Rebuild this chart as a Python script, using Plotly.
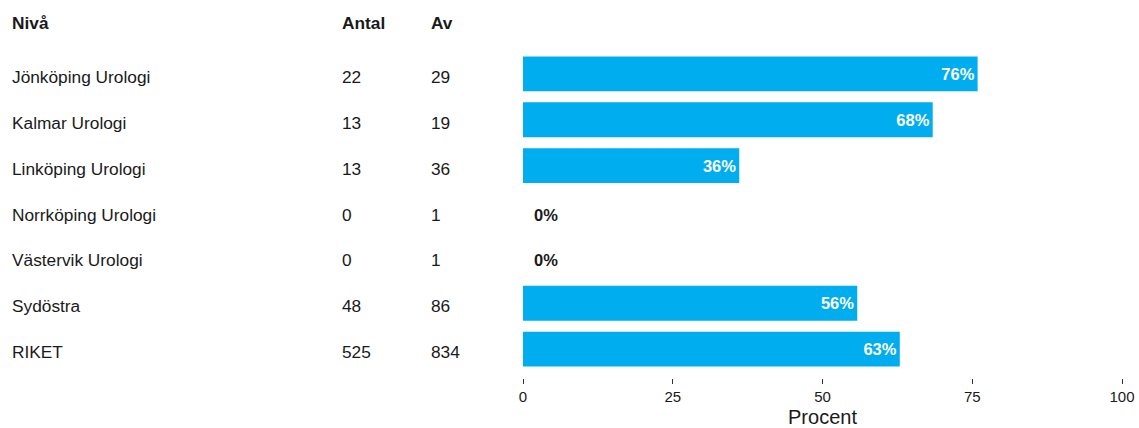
import plotly.graph_objects as go

# Data
niva = ["Jönköping Urologi", "Kalmar Urologi", "Linköping Urologi", "Norrköping Urologi",
        "Västervik Urologi", "Sydöstra", "RIKET"]
antal = [22, 13, 13, 0, 0, 48, 525]
av = [29, 19, 36, 1, 1, 86, 834]
procent = [75.9, 68.4, 36.1, 0.0, 0.0, 55.8, 62.9]
labels = ["76%", "68%", "36%", "0%", "0%", "56%", "63%"]
headers = ["Nivå", "Antal", "Av"]
x_ticks = [0, 25, 50, 75, 100]

FONT = "Liberation Sans, Arial, sans-serif"
BAR = "#00adee"
TXT = "#1a1a1a"

W, H = 1139, 428
L, R, T, B = 523, 17, 51, 50
plot_w = W - L - R

def px_to_paper(px):
    return (px - L) / plot_w

inside_text = [f"<b>{t}</b>" if v > 0 else "" for t, v in zip(labels, procent)]

fig = go.Figure()
fig.add_trace(go.Bar(
    y=niva, x=procent, orientation="h",
    marker=dict(color=BAR, line=dict(width=0)),
    text=inside_text, textposition="inside", insidetextanchor="end",
    textfont=dict(family=FONT, size=16.5, color="white"),
    cliponaxis=False, hoverinfo="skip",
))

col_x = [10, 340, 429]
annotations = []
for h, cx in zip(headers, col_x):
    annotations.append(dict(
        x=px_to_paper(cx), xref="paper", y=1.086, yref="paper",
        text=f"<b>{h}</b>", showarrow=False, xanchor="left", yanchor="middle",
        font=dict(family=FONT, size=17.3, color=TXT)))
for i, name in enumerate(niva):
    for val, cx in zip([name, str(antal[i]), str(av[i])], col_x):
        annotations.append(dict(
            x=px_to_paper(cx), xref="paper", y=name, yref="y",
            text=val, showarrow=False, xanchor="left", yanchor="middle",
            yshift=-3,
            font=dict(family=FONT, size=17.3, color=TXT)))
    if procent[i] == 0:
        annotations.append(dict(
            x=procent[i], xref="x", y=name, yref="y",
            text=f"<b>{labels[i]}</b>", showarrow=False, xanchor="left", yanchor="middle",
            xshift=9, yshift=-3,
            font=dict(family=FONT, size=16.5, color=TXT)))

fig.update_layout(
    width=W, height=H,
    margin=dict(l=L, r=R, t=T, b=B, pad=0, autoexpand=False),
    paper_bgcolor="white", plot_bgcolor="white",
    bargap=0.24, showlegend=False,
    uniformtext=dict(mode=False),
    annotations=annotations,
    font=dict(family=FONT, color=TXT),
)
fig.update_xaxes(
    range=[0, 100], tickvals=x_ticks, ticktext=[str(t) for t in x_ticks],
    ticks="outside", ticklen=5, tickwidth=1, tickcolor="#333333",
    showgrid=False, zeroline=False, showline=False, automargin=False,
    tickfont=dict(family=FONT, size=15, color=TXT),
    title=dict(text="Procent", font=dict(family=FONT, size=20, color=TXT), standoff=5),
)
fig.update_yaxes(
    categoryorder="array", categoryarray=niva, range=[6.63, -0.5],
    showticklabels=False, showgrid=False, zeroline=False, showline=False, ticks="",
    automargin=False,
)
fig.write_html("out.html", config={"displayModeBar": False},
               post_script="document.body.style.margin='0';document.body.style.overflow='hidden';")
